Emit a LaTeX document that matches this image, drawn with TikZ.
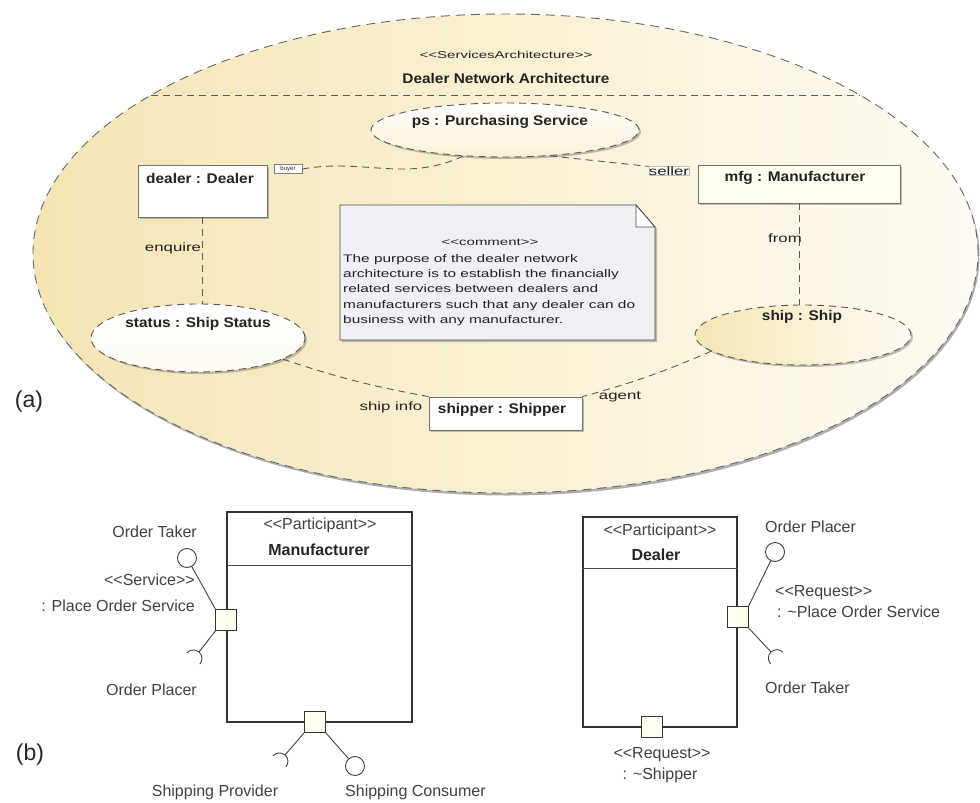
\documentclass[tikz,border=0pt]{standalone}
\usepackage{fontspec}
\setmainfont{Liberation Sans}
\newfontfamily\nameface{Liberation Sans}[FakeStretch=1.1]
\newfontfamily\labelface{Liberation Sans}[FakeStretch=1.4]
\newfontfamily\stereoface{Liberation Sans}[FakeStretch=1.5]
\usetikzlibrary{shapes.geometric,shadows,calc}

% UML stereotype brackets, kept as two separate characters
\newcommand\stereo[1]{<\kern0pt<#1>\kern0pt>}

\definecolor{archdark}{HTML}{F5E5B4}
\definecolor{archlight}{HTML}{FDFBF3}
\definecolor{shipfill}{HTML}{F5E6B5}
\definecolor{notefill}{HTML}{EEF0F4}
\definecolor{portfill}{HTML}{FFFFF0}
\definecolor{inktext}{HTML}{222222}

\begin{document}
\begin{tikzpicture}[x=1pt,y=-1pt,
  shade/.style={drop shadow={shadow xshift=2pt,shadow yshift=-2pt,opacity=0.35,fill=black!70}},
  dashedge/.style={draw=black!65,line width=0.9pt,dash pattern=on 7pt off 5pt},
  solidedge/.style={draw=black!75,line width=0.9pt},
  partbox/.style={rectangle,draw=black!55,line width=0.8pt,fill=white,inner sep=0,shade},
  partoval/.style={ellipse,dashedge,inner sep=0,shade},
  nameA/.style={inner sep=0,text=inktext,font=\nameface\bfseries\fontsize{14}{16}\selectfont},
  labelA/.style={inner sep=0,text=inktext,font=\labelface\fontsize{12}{14}\selectfont},
  stereoA/.style={inner sep=0,text=inktext,font=\stereoface\fontsize{10}{12}\selectfont},
  labelB/.style={inner sep=0,text=black!75,font=\fontsize{16}{19}\selectfont},
  boldB/.style={inner sep=0,text=black!85,font=\bfseries\fontsize{16}{19}\selectfont},
  classbox/.style={rectangle,draw=black!80,line width=1.3pt,fill=white,inner sep=0},
  port/.style={rectangle,draw=black!80,line width=0.9pt,fill=portfill,minimum size=21pt,inner sep=0},
  ball/.style={circle,draw=black!75,line width=0.9pt,fill=white,minimum size=19pt,inner sep=0},
  panel/.style={inner sep=0,text=black!85,font=\fontsize{23}{26}\selectfont}]
\useasboundingbox (0,0) rectangle (980,803);

% ---------------- (a) services architecture ----------------
\node[ellipse,minimum width=945pt,minimum height=479pt,inner sep=0,
      left color=archdark,right color=archlight,
      draw=black!60,line width=0.9pt,dash pattern=on 9pt off 6pt,
      drop shadow={shadow xshift=1.5pt,shadow yshift=-2.5pt,opacity=0.45,fill=black!70}]
  (arch) at (505.5,253.5) {};
\node[stereoA] (arch-st) at (506,55) {\stereo{ServicesArchitecture}};
\node[nameA] (arch-name) at (506,78) {Dealer Network Architecture};
\draw[dashedge] (151,95) -- (860,95);

% parts
\node[partoval,minimum width=268pt,minimum height=54pt,top color=white,bottom color=shipfill!55]
  (ps) at (505,130) {};
\node[nameA] (ps-name) at (500,122) {ps : Purchasing Service};

\node[partoval,minimum width=214pt,minimum height=68pt,top color=white,bottom color=archlight]
  (status) at (198,338) {};
\node[nameA] (status-name) at (198,324) {status : Ship Status};

\node[partoval,minimum width=216pt,minimum height=60pt,left color=shipfill,right color=archlight]
  (ship) at (803,335) {};
\node[nameA] (ship-name) at (802,317) {ship : Ship};

\node[partbox,minimum width=129pt,minimum height=52pt] (dealer) at (202.5,191) {};
\node[nameA] (dealer-name) at (200,178) {dealer : Dealer};

\node[partbox,fill=portfill,minimum width=202pt,minimum height=38pt] (mfg) at (799,184) {};
\node[nameA] (mfg-name) at (795,178) {mfg : Manufacturer};

\node[partbox,minimum width=153pt,minimum height=33pt] (shipper) at (505.5,413.5) {};
\node[nameA] (shipper-name) at (502,410) {shipper : Shipper};

% role tags
\node[draw=black!50,fill=white,inner sep=1pt,minimum width=28pt,minimum height=9pt,
      text=inktext,font=\fontsize{6}{7}\selectfont] (buyer) at (288,169) {buyer};
\node[draw=black!25,fill=archlight,inner sep=1.5pt,labelA] (seller) at (669,171) {seller};

% connectors
\draw[dashedge] (buyer.east) to[out=10,in=205] (ps.212);
\draw[dashedge] (ps.330) -- (seller.north west);
\draw[dashedge] (dealer.south) -- (dealer.south |- status.north);
\draw[dashedge] (mfg.south) -- (mfg.south |- ship.north);
\draw[dashedge] (status.-14) to[bend right=4] (shipper.north west);
\draw[dashedge] (ship.190) to[bend left=4] (shipper.north east);

\node[labelA] (enquire) at (173,248) {enquire};
\node[labelA] (from) at (785,238) {from};
\node[labelA] (shipinfo) at (391,407) {ship info};
\node[labelA] (agent) at (620,397) {agent};

% comment note
\coordinate (n-tl) at (340,205);
\coordinate (n-f1) at (636,205);
\coordinate (n-f2) at (655,227);
\coordinate (n-br) at (655,340);
\coordinate (n-bl) at (340,340);
\draw[draw=black!70,line width=0.8pt,fill=notefill,shade]
  (n-tl) -- (n-f1) -- (n-f2) -- (n-br) -- (n-bl) -- cycle;
\draw[draw=black!70,line width=0.8pt,fill=white] (n-f1) -- (n-f1 |- n-f2) -- (n-f2) -- cycle;
\node[stereoA] (note-st) at (490,242) {\stereo{comment}};
\node[anchor=north west,align=left,inner sep=0,text=inktext,
      font=\labelface\fontsize{11}{15.3}\selectfont] (note) at (343,254)
  {The purpose of the dealer network\\
   architecture is to establish the financially\\
   related services between dealers and\\
   manufacturers such that any dealer can do\\
   business with any manufacturer.};

\node[panel] (panel-a) at (29,402) {(a)};

% ---------------- (b) participants ----------------
% Manufacturer
\node[classbox,minimum width=185pt,minimum height=210pt] (mbox) at (319.5,617) {};
\draw[draw=black!70,line width=0.9pt] (mbox.west |- 0,565) -- (mbox.east |- 0,565);
\node[labelB] (m-st) at (320,525) {\stereo{Participant}};
\node[boldB] (m-name) at (319,550) {Manufacturer};

\node[port] (p1) at (mbox.west |- 0,620) {};
\node[ball] (c1) at (187,558) {};
\draw[solidedge] (p1.north west) -- (c1);
% required-interface cups: radius in pt, angles counter-clockwise on the page
\coordinate (s1) at (199,652);
\draw[solidedge] (p1.south west) -- (s1)
  arc[start angle=49.2,end angle=139.2,radius=8.5pt]
  (s1) arc[start angle=49.2,end angle=-40.8,radius=8.5pt];

\node[port] (p2) at (315,722) {};
\node[ball] (c2) at (355,766) {};
\draw[solidedge] (p2.south east) -- (c2);
\coordinate (s2) at (285,755);
\draw[solidedge] (p2.south west) -- (s2)
  arc[start angle=49.1,end angle=139.1,radius=8.5pt]
  (s2) arc[start angle=49.1,end angle=-40.9,radius=8.5pt];

\node[labelB,anchor=east] (ot1) at (197,532) {Order Taker};
\node[labelB,anchor=east] (svc1) at (195,580) {\stereo{Service}};
\node[labelB,anchor=east] (svc1n) at (195,606) {: Place Order Service};
\node[labelB,anchor=east] (op1) at (197,690) {Order Placer};
\node[labelB] (sprov) at (215,792) {Shipping Provider};
\node[labelB,anchor=west] (scons) at (345,792) {Shipping Consumer};

% Dealer
\node[classbox,minimum width=154pt,minimum height=210pt] (dbox) at (660,622) {};
\draw[draw=black!70,line width=0.9pt] (dbox.west |- 0,568) -- (dbox.east |- 0,568);
\node[labelB] (d-st) at (660,531) {\stereo{Participant}};
\node[boldB] (d-name) at (656,555) {Dealer};

\node[port] (p3) at (dbox.east |- 0,617) {};
\node[ball] (c3) at (775,552) {};
\draw[solidedge] (p3.north east) -- (c3);
\coordinate (s3) at (771,652);
\draw[solidedge] (p3.south east) -- (s3)
  arc[start angle=133.8,end angle=223.8,radius=8.5pt]
  (s3) arc[start angle=133.8,end angle=43.8,radius=8.5pt];

\node[port] (p4) at (652,727) {};

\node[labelB,anchor=west] (op3) at (765,527) {Order Placer};
\node[labelB,anchor=west] (req3) at (775,593) {\stereo{Request}};
\node[labelB,anchor=west] (req3n) at (777,612) {: \textasciitilde Place Order Service};
\node[labelB,anchor=west] (ot3) at (765,688) {Order Taker};
\node[labelB] (req4) at (662,755) {\stereo{Request}};
\node[labelB] (req4n) at (660,775) {: \textasciitilde Shipper};

\node[panel] (panel-b) at (30,755) {(b)};
\end{tikzpicture}
\end{document}
